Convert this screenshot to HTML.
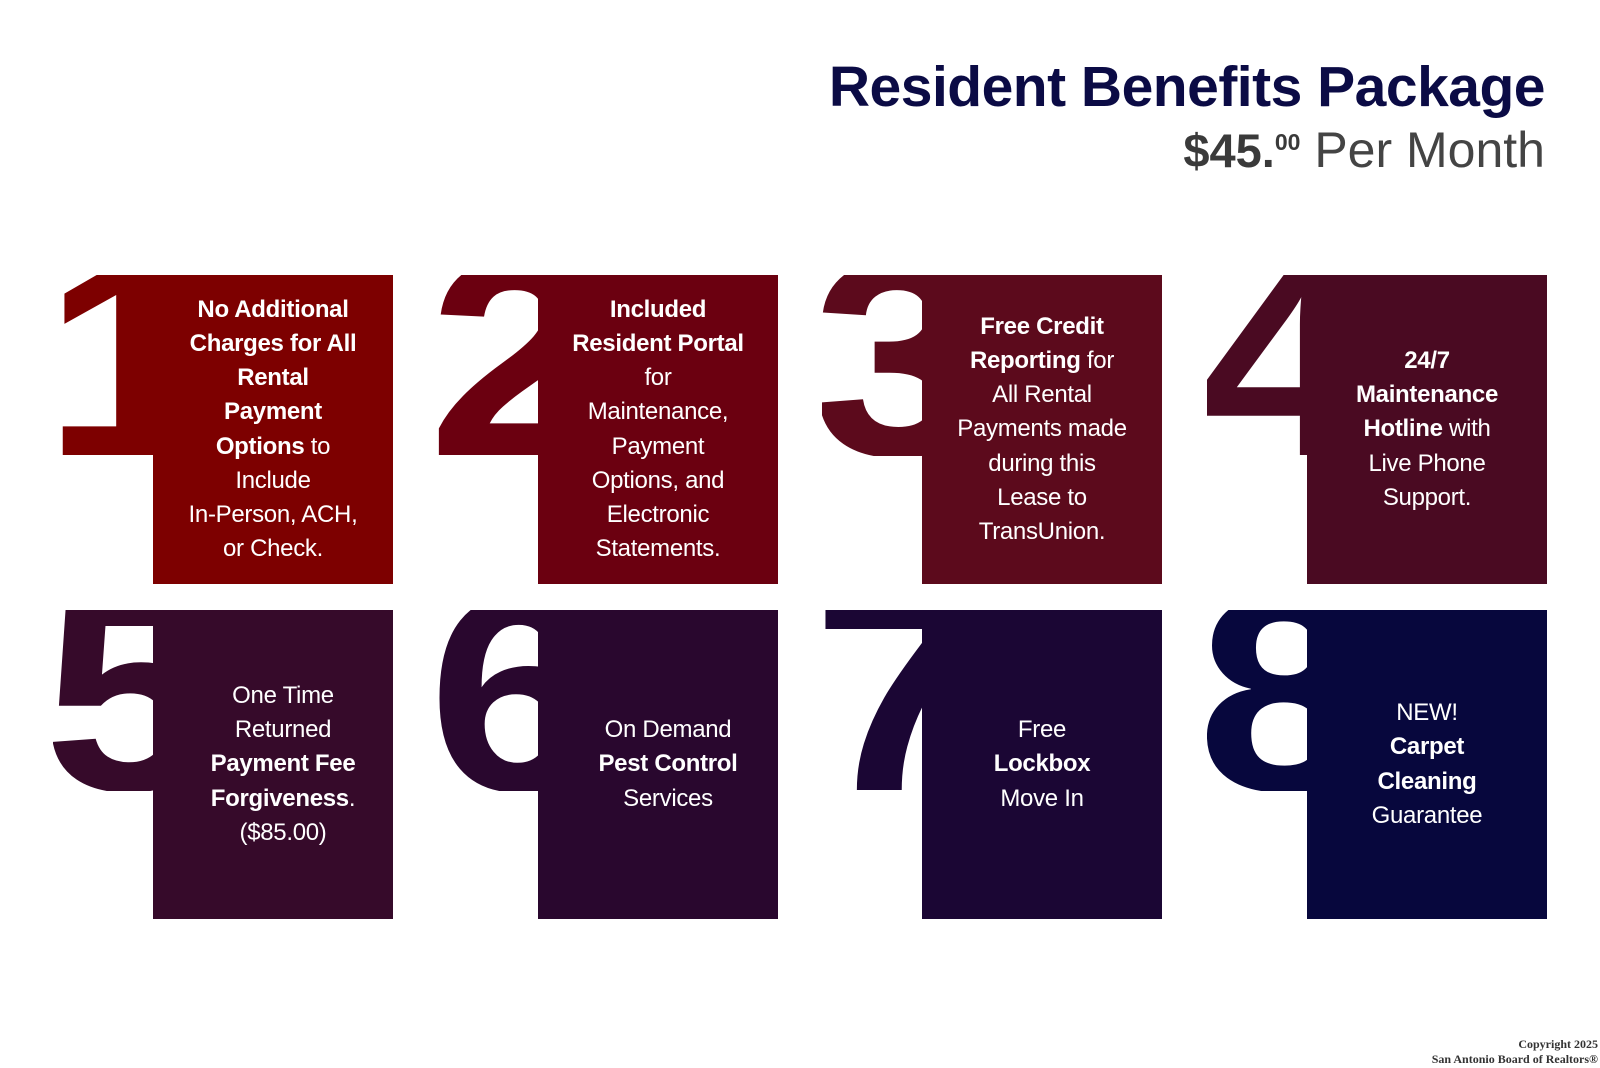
<!DOCTYPE html>
<html><head><meta charset="utf-8"><style>
body{margin:0;width:1600px;height:1068px;background:#fff;position:relative;overflow:hidden;font-family:"Liberation Sans",sans-serif}
.t{position:absolute;right:55px;top:54px;font-size:57px;font-weight:bold;color:#0b0b45;letter-spacing:-0.5px;white-space:nowrap}
.p{position:absolute;right:55px;top:121px;font-size:50px;color:#3a3a3a;white-space:nowrap}
.p b{font-size:47px}.p sup{font-size:23px;font-weight:bold;vertical-align:top;position:relative;top:8px}
.p span{font-weight:300;color:#444}
.clip{position:absolute;width:340px;height:181px;overflow:hidden}
.clip span{position:absolute;left:-10px;top:-56px;font-size:280px;font-weight:bold;line-height:1;transform:scaleX(1.12);transform-origin:0 0}
.box{position:absolute;width:240px;height:309px;display:flex;align-items:center;justify-content:center;text-align:center;color:#fff;font-size:24px;line-height:34.2px;letter-spacing:-0.3px;white-space:nowrap}
.cr{position:absolute;right:2px;top:1037px;font:bold 12px "Liberation Serif",serif;color:#333;text-align:right;line-height:15px}
</style></head><body>
<div class="t">Resident Benefits Package</div>
<div class="p"><b>$45.</b><sup>00</sup> <span>Per Month</span></div>

<div class="clip" style="left:53px;top:275px"><span style="color:#7d0000">1</span></div>
<div class="box" style="left:153px;top:275px;background:#7d0000"><div><b>No Additional<br>Charges for All<br>Rental<br>Payment<br>Options</b> to<br>Include<br>In-Person, ACH,<br>or Check.</div></div>

<div class="clip" style="left:438px;top:275px"><span style="color:#6b0010">2</span></div>
<div class="box" style="left:538px;top:275px;background:#6b0010"><div><b>Included<br>Resident Portal</b><br>for<br>Maintenance,<br>Payment<br>Options, and<br>Electronic<br>Statements.</div></div>

<div class="clip" style="left:822px;top:275px"><span style="color:#5c0a1c">3</span></div>
<div class="box" style="left:922px;top:275px;background:#5c0a1c"><div><b>Free Credit<br>Reporting</b> for<br>All Rental<br>Payments made<br>during this<br>Lease to<br>TransUnion.</div></div>

<div class="clip" style="left:1207px;top:275px"><span style="color:#4a0a22">4</span></div>
<div class="box" style="left:1307px;top:275px;background:#4a0a22"><div><b>24/7<br>Maintenance<br>Hotline</b> with<br>Live Phone<br>Support.</div></div>

<div class="clip" style="left:53px;top:610px"><span style="color:#360a2a">5</span></div>
<div class="box" style="left:153px;top:610px;background:#360a2a"><div style="padding-left:20px">One Time<br>Returned<br><b>Payment Fee<br>Forgiveness</b>.<br>($85.00)</div></div>

<div class="clip" style="left:438px;top:610px"><span style="color:#29072e">6</span></div>
<div class="box" style="left:538px;top:610px;background:#29072e"><div style="padding-left:20px">On Demand<br><b>Pest Control</b><br>Services</div></div>

<div class="clip" style="left:822px;top:610px"><span style="color:#1b0634">7</span></div>
<div class="box" style="left:922px;top:610px;background:#1b0634"><div>Free<br><b>Lockbox</b><br>Move In</div></div>

<div class="clip" style="left:1207px;top:610px"><span style="color:#07073d">8</span></div>
<div class="box" style="left:1307px;top:610px;background:#07073d"><div>NEW!<br><b>Carpet<br>Cleaning</b><br>Guarantee</div></div>

<div class="cr">Copyright 2025<br>San Antonio Board of Realtors®</div>
</body></html>
